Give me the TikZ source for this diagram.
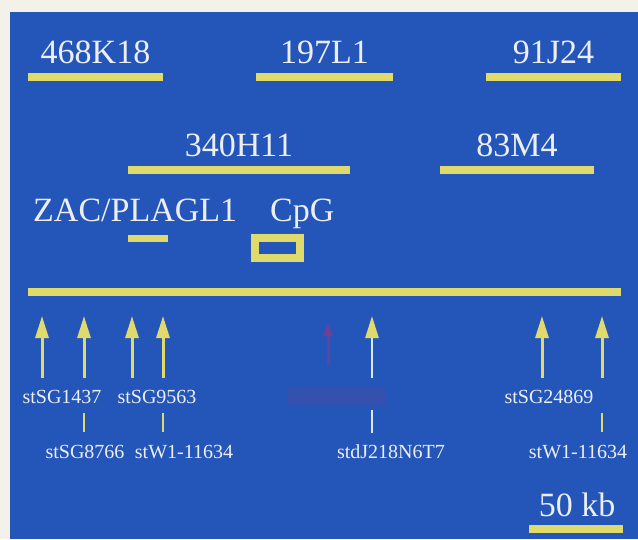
\documentclass[tikz,border=0pt]{standalone}
\usepackage{fontspec}
\setmainfont{Liberation Serif}
\usetikzlibrary{arrows.meta,positioning}
\definecolor{mapBlue}{HTML}{2456B9}
\definecolor{mapYellow}{HTML}{E0DA6C}
\definecolor{mapText}{HTML}{ECEEF4}
\definecolor{mapFrame}{HTML}{F3F1E8}
\definecolor{mapPale}{HTML}{D6ECEE}
\definecolor{mapRed}{HTML}{B0306E}

\begin{document}
\begin{tikzpicture}[x=1pt, y=-1pt,
    bar/.style={draw=mapYellow, line width=8pt},
    biglab/.style={text=mapText, font=\fontsize{34}{36}\selectfont, inner sep=0pt, anchor=base},
    smalllab/.style={text=mapText, font=\fontsize{20}{22}\selectfont, inner sep=0pt, anchor=base},
    stsarrow/.style={draw=mapYellow, line width=3pt, -{Triangle[length=22pt, width=13pt]}},
    tick/.style={draw=mapYellow, line width=2.5pt}]
  % ------- background and frame -------
  \fill[mapFrame] (0,0) rectangle (638,539);
  \fill[mapBlue] (10,12) rectangle (638,539);
  \useasboundingbox (0,0) rectangle (638,539);
  % ------- BAC / PAC clones -------
  \foreach \name/\xa/\xb/\y/\lab in {cA/28/163/77/468K18, cB/256/393/77/197L1, cC/486/621/77/91J24,
                                      cD/128/350/170/340H11, cE/440/594/170/83M4} {
    \coordinate (\name-w) at (\xa,\y);
    \coordinate (\name-e) at (\xb,\y);
    \draw[bar] (\name-w) -- (\name-e);
    \node[biglab] (\name-lab) at ({(\xa+\xb)/2},{\y-14}) {\lab};
  }
  % ------- gene and CpG island -------
  \node[biglab, anchor=base west] (zac-lab) at (33,221) {ZAC/PLAGL1};
  \node[biglab, anchor=base west] (cpg-lab) at (270,221) {CpG};
  \coordinate (zac-w) at (128,238);
  \coordinate (zac-e) at (168,238);
  \draw[draw=mapYellow, line width=7pt] (zac-w) -- (zac-e);
  \draw[draw=mapYellow, line width=8pt] (255,238) rectangle (300,258);
  % ------- main contig line -------
  \coordinate (map-w) at (28,292);
  \coordinate (map-e) at (621,292);
  \draw[bar] (map-w) -- (map-e);
  % ------- STS markers -------
  \foreach \name/\x in {sA/42, sB/84, sC/132, sD/163, sF/542, sG/602} {
    \coordinate (\name-foot) at (\x,378);
    \coordinate (\name-tip) at (\x,316);
    \draw[stsarrow] (\name-foot) -- (\name-tip);
  }
  \coordinate (sE-foot) at (372,378);
  \coordinate (sE-tip) at (372,316);
  \draw[draw=mapPale, line width=2.5pt, -{Triangle[length=22pt, width=13pt, color=mapYellow]}]
    (sE-foot) -- (sE-tip);
  % faded red marker
  \coordinate (sR-foot) at (328,365);
  \coordinate (sR-tip) at (328,322);
  \draw[draw=mapRed, opacity=0.4, line width=3pt, -{Triangle[length=14pt, width=9pt]}] (sR-foot) -- (sR-tip);
  \fill[mapRed, opacity=0.12] (288,388) rectangle (386,405);
  % ------- marker names -------
  \foreach \name/\x/\lab in {lA/62/stSG1437, lC/157/stSG9563, lF/549/stSG24869} {
    \node[smalllab] (\name) at (\x,403) {\lab};
  }
  \foreach \name/\x/\lab in {lB/85/stSG8766, lD/184/stW1-11634, lE/391/stdJ218N6T7, lG/578/stW1-11634} {
    \node[smalllab] (\name) at (\x,458) {\lab};
  }
  \foreach \name/\x in {tB/84, tD/163, tG/602} {
    \coordinate (\name-t) at (\x,413);
    \coordinate (\name-b) at (\x,432);
    \draw[tick] (\name-t) -- (\name-b);
  }
  \coordinate (tE-t) at (372,410);
  \coordinate (tE-b) at (372,433);
  \draw[draw=mapPale, line width=2.5pt] (tE-t) -- (tE-b);
  % ------- scale bar -------
  \coordinate (scale-w) at (529,529);
  \coordinate (scale-e) at (623,529);
  \draw[bar] (scale-w) -- (scale-e);
  \node[biglab] (scale-lab) at (577,516) {50 kb};
\end{tikzpicture}
\end{document}
